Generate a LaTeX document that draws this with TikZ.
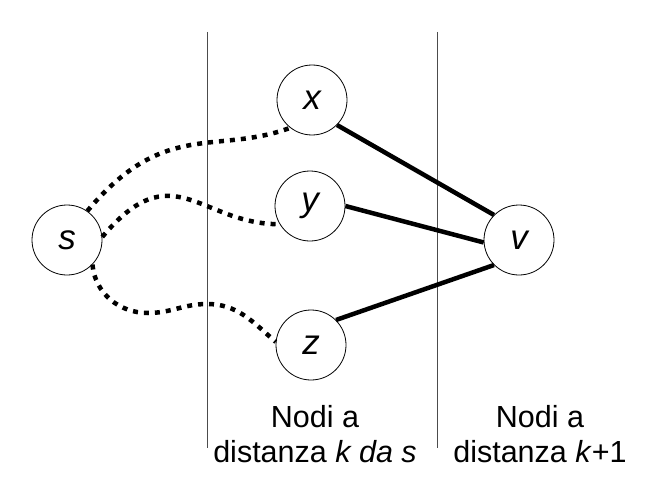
\documentclass[tikz,border=0pt]{standalone}
\usepackage{fontspec}
\setmainfont{Liberation Sans}
\usepackage{tikz}

\begin{document}
\begin{tikzpicture}[
        x=1pt, y=1pt,
        vertex/.style={draw, circle, line width=0.8pt, minimum size=70pt, inner sep=0pt, font=\fontsize{35}{40}\selectfont\itshape},
        cut/.style={black!70, line width=1pt},
        link/.style={line width=4.5pt},
        walk/.style={line width=4.5pt, dash pattern=on 5pt off 6pt},
        caption/.style={align=center, anchor=base, font=\fontsize{30.5}{35}\selectfont}
    ]
        \useasboundingbox (0,0) rectangle (660,499);

        % the two cuts
        \draw[cut] (207,467) -- (207,51);
        \draw[cut] (437,467) -- (437,51);

        \node[vertex] (s) at (67,259) {s};
        \node[vertex] (x) at (312,399) {x};
        \node[vertex] (y) at (310,293) {y};
        \node[vertex] (z) at (311,154) {z};
        \node[vertex] (v) at (519,259) {v};

        \coordinate (dip) at (148,186);
        \coordinate (hump) at (207,195);

        % shortest walks from s
        \draw[walk] (s.55) .. controls +(50:120) and +(200:80) .. (x.232);
        \draw[walk] (s.5) .. controls +(50:110) and +(180:80) .. (y.211);
        \draw[walk] (s.-44) to[out=-85, in=180] (dip) to[out=0, in=180] (hump) to[out=0, in=139] (z.175);

        % last edges
        \draw[link] (x.-45) -- (v.135);
        \draw[link] (y.0) -- (v.184);
        \draw[link] (z.45) -- (v.225);

        \node[caption] (left) at (315,37) {Nodi a\\distanza \textit{k da s}};
        \node[caption] (right) at (540,37) {Nodi a\\distanza \textit{k}+1};

\end{tikzpicture}
\end{document}
